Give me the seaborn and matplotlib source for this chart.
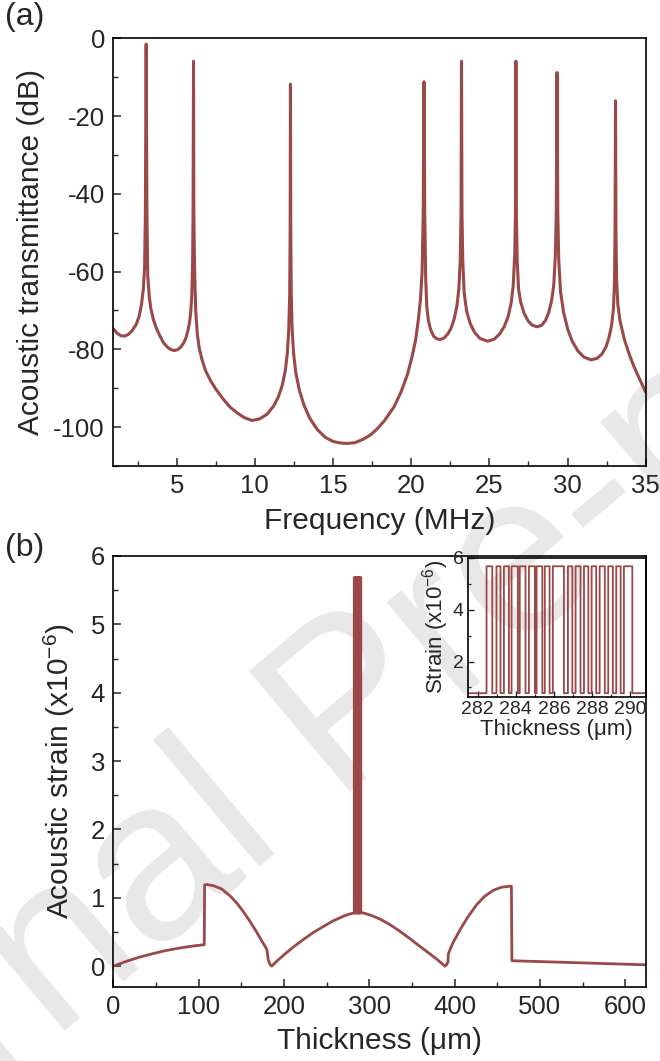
import matplotlib
matplotlib.use("Agg")
import matplotlib.pyplot as plt
import pandas as pd
import seaborn as sns
from matplotlib.ticker import MultipleLocator

# (a) acoustic transmittance spectrum
freq_mhz = [0.95, 1.2, 1.45, 1.65, 1.9, 2.15, 2.41, 2.6, 2.75, 2.87, 2.95, 3.0, 3.05, 3.1, 3.15,
            3.25, 3.35, 3.51, 3.7, 3.9, 4.16, 4.4, 4.6, 4.84, 5.05, 5.25, 5.44, 5.6, 5.72, 5.82,
            5.9, 5.97, 6.02, 6.05, 6.08, 6.1, 6.15, 6.22, 6.32, 6.45, 6.62, 6.85, 7.15, 7.5, 8.0,
            8.4, 8.86, 9.3, 9.82, 10.3, 10.78, 11.2, 11.5, 11.75, 11.95, 12.08, 12.17, 12.23,
            12.26, 12.28, 12.3, 12.33, 12.39, 12.48, 12.62, 12.85, 13.13, 13.5, 13.99, 14.5, 15.0,
            15.5, 15.91, 16.4, 16.9, 17.4, 17.84, 18.3, 18.9, 19.35, 19.76, 20.05, 20.29, 20.47,
            20.6, 20.7, 20.77, 20.82, 20.87, 20.93, 21.0, 21.1, 21.25, 21.45, 21.65, 21.85, 22.1,
            22.35, 22.55, 22.75, 22.92, 23.05, 23.14, 23.19, 23.22, 23.25, 23.3, 23.39, 23.55,
            23.77, 24.05, 24.4, 24.89, 25.3, 25.65, 25.95, 26.2, 26.4, 26.53, 26.63, 26.67, 26.7,
            26.73, 26.78, 26.87, 27.0, 27.24, 27.5, 27.75, 28.05, 28.35, 28.6, 28.8, 28.98, 29.12,
            29.22, 29.28, 29.33, 29.38, 29.44, 29.55, 29.75, 30.02, 30.3, 30.66, 31.05, 31.51,
            31.9, 32.2, 32.45, 32.65, 32.82, 32.94, 33.01, 33.04, 33.07, 33.1, 33.14, 33.22,
            33.35, 33.64, 33.95, 34.29, 34.65, 35.0]
trans_db = [-74.7, -75.9, -76.5, -76.6, -76.2, -75.2, -73.6, -71.5, -68.5, -64.5, -59.0, -45.0,
            -1.5, -45.0, -61.0, -66.5, -69.5, -72.3, -74.5, -76.3, -78.3, -79.4, -80.0, -80.3,
            -80.1, -79.5, -78.4, -77.0, -75.2, -73.2, -70.5, -66.0, -58.0, -45.0, -5.9, -45.0,
            -60.0, -70.0, -76.0, -79.8, -82.6, -85.5, -87.9, -90.2, -92.9, -94.8, -96.3, -97.5,
            -98.3, -97.9, -96.7, -94.6, -92.3, -89.3, -85.5, -81.0, -75.0, -66.0, -50.0, -11.8,
            -50.0, -66.0, -75.0, -81.0, -86.0, -90.5, -94.2, -97.6, -100.6, -102.6, -103.7,
            -104.1, -104.2, -104.0, -103.2, -102.0, -100.4, -98.3, -94.8, -91.0, -86.5, -82.0,
            -77.5, -72.0, -67.0, -60.0, -45.0, -11.2, -45.0, -62.0, -69.0, -72.5, -75.0, -76.7,
            -77.3, -77.5, -77.1, -76.0, -74.6, -72.2, -69.0, -64.5, -57.0, -45.0, -5.9, -45.0,
            -57.0, -65.5, -70.2, -73.3, -75.6, -77.2, -77.9, -77.4, -76.1, -74.2, -71.6, -68.0,
            -63.5, -55.0, -45.0, -5.9, -45.0, -57.0, -64.5, -67.8, -70.9, -72.8, -73.8, -74.2,
            -73.8, -72.5, -70.5, -67.5, -63.5, -56.0, -45.0, -8.8, -45.0, -57.0, -65.0, -70.5,
            -74.9, -77.9, -80.4, -82.0, -82.7, -82.3, -81.2, -79.5, -77.0, -73.8, -69.5, -62.0,
            -50.0, -16.1, -50.0, -62.0, -68.5, -72.5, -77.5, -81.3, -84.8, -88.0, -91.0]

# (b) strain envelope through the structure
thick_um = [0, 15, 30, 45, 60, 75, 90, 106.6, 107.0, 110, 118, 127, 136.7, 145, 152.3, 160, 168,
            174, 179.8, 180.5, 181.6, 183.5, 185.6, 193, 203.2, 213, 222.7, 234, 246, 258, 269.5,
            276, 282.2, 290.4, 293, 302, 312.5, 324, 336, 348, 359.4, 369, 379, 386, 388.7, 391,
            392.4, 392.6, 398, 406.3, 415, 425.9, 435, 445.3, 455, 464.9, 466.6, 467.2, 508, 560,
            625]
strain_env = [0.0, 0.07, 0.13, 0.18, 0.225, 0.26, 0.29, 0.315, 1.19, 1.195, 1.175, 1.13, 1.03,
              0.92, 0.80, 0.66, 0.50, 0.37, 0.25, 0.20, 0.095, 0.03, 0.0, 0.09, 0.20, 0.30, 0.39,
              0.49, 0.58, 0.665, 0.73, 0.76, 0.78, 0.78, 0.78, 0.745, 0.69, 0.61, 0.51, 0.40,
              0.29, 0.20, 0.105, 0.03, 0.0, 0.03, 0.07, 0.18, 0.34, 0.53, 0.71, 0.90, 1.02, 1.11,
              1.155, 1.17, 1.17, 0.08, 0.065, 0.045, 0.02]

# layer boundaries of the multilayer (inset), strain switches high/low at each one
layer_edges_um = [282.47, 282.77, 282.99, 283.20, 283.38, 283.64, 283.78, 284.11, 284.21, 284.51,
                  284.69, 285.00, 285.09, 285.39, 285.52, 285.77, 285.94, 286.52, 286.73, 286.96,
                  287.13, 287.39, 287.57, 287.80, 287.97, 288.21, 288.39, 288.66, 288.84, 289.08,
                  289.26, 289.49, 289.66, 290.10]
strain_high = 5.68
strain_low = 0.78

wave_x, wave_y = [], []
level = strain_low
for i, e in enumerate(layer_edges_um):
    new = strain_high if i % 2 == 0 else strain_low
    wave_x += [e, e]
    wave_y += [level, new]
    level = new

left = [(t, s) for t, s in zip(thick_um, strain_env) if t < layer_edges_um[0]]
right = [(t, s) for t, s in zip(thick_um, strain_env) if t > layer_edges_um[-1]]
df_b = pd.DataFrame(left + list(zip(wave_x, wave_y)) + right, columns=["t", "s"])
df_a = pd.DataFrame({"f": freq_mhz, "db": trans_db})

sns.set_style("ticks")
plt.rcParams["font.family"] = ["Liberation Sans", "DejaVu Sans"]
plt.rcParams["mathtext.fontset"] = "custom"
plt.rcParams["mathtext.rm"] = "Liberation Sans"
plt.rcParams["mathtext.it"] = "Liberation Sans:italic"
plt.rcParams["axes.unicode_minus"] = False
plt.rcParams["axes.linewidth"] = 1.2
plt.rcParams["axes.edgecolor"] = "black"

line_color = "#9a4848"

fig = plt.figure(figsize=(6.6, 10.61), dpi=100)
# faint diagonal watermark behind both panels
fig.text(0.532, 0.328, "Journal Pre-proof", rotation=40, fontsize=165, color="#e8e8e8",
         ha="center", va="center", zorder=-1)

ax1 = fig.add_axes([0.1717, 0.5608, 0.8066, 0.4031])
ax2 = fig.add_axes([0.1717, 0.0700, 0.8066, 0.4060])
axi = fig.add_axes([0.7091, 0.3435, 0.2692, 0.1306])
for ax in (ax1, ax2, axi):
    ax.set_facecolor("none")

sns.lineplot(data=df_a, x="f", y="db", ax=ax1, sort=False, estimator=None,
             color=line_color, lw=2.2)
ax1.set_xlim(0.95, 35)
ax1.set_ylim(-110, 0)
ax1.xaxis.set_major_locator(MultipleLocator(5))
ax1.xaxis.set_minor_locator(MultipleLocator(2.5))
ax1.yaxis.set_major_locator(MultipleLocator(20))
ax1.yaxis.set_minor_locator(MultipleLocator(10))
ax1.set_xlabel("Frequency (MHz)", fontsize=21.5, labelpad=6)
ax1.set_ylabel("Acoustic transmittance (dB)", fontsize=21.5, labelpad=6)

sns.lineplot(data=df_b, x="t", y="s", ax=ax2, sort=False, estimator=None,
             color=line_color, lw=2.0)
ax2.set_xlim(0, 624)
ax2.set_ylim(-0.3, 6)
ax2.xaxis.set_major_locator(MultipleLocator(100))
ax2.xaxis.set_minor_locator(MultipleLocator(50))
ax2.yaxis.set_major_locator(MultipleLocator(1))
ax2.yaxis.set_minor_locator(MultipleLocator(0.5))
ax2.set_xlabel("Thickness (μm)", fontsize=21.5, labelpad=6)
ax2.set_ylabel("Acoustic strain (x10$^{-6}$)", fontsize=21.5, labelpad=10)

for ax in (ax1, ax2):
    ax.tick_params(which="major", direction="in", length=6, width=1.1, labelsize=18.5,
                   top=False, right=False, pad=6)
    ax.tick_params(which="minor", direction="in", length=3.5, width=1.0, top=False, right=False)

sns.lineplot(data=df_b, x="t", y="s", ax=axi, sort=False, estimator=None,
             color=line_color, lw=1.3)
axi.set_xlim(281.5, 290.8)
axi.set_ylim(0.65, 6)
axi.xaxis.set_major_locator(MultipleLocator(2))
axi.xaxis.set_minor_locator(MultipleLocator(1))
axi.yaxis.set_major_locator(MultipleLocator(2))
axi.yaxis.set_minor_locator(MultipleLocator(1))
axi.tick_params(which="major", direction="in", length=4, width=1.0, labelsize=14, pad=3)
axi.tick_params(which="minor", direction="in", length=2.5, width=0.9)
axi.set_xlabel("Thickness (μm)", fontsize=16, labelpad=1)
axi.set_ylabel("Strain (x10$^{-6}$)", fontsize=16, labelpad=1)

fig.text(0.008, 0.998, "(a)", fontsize=23, ha="left", va="top")
fig.text(0.008, 0.498, "(b)", fontsize=23, ha="left", va="top")

fig.savefig("out.png", dpi=100)
